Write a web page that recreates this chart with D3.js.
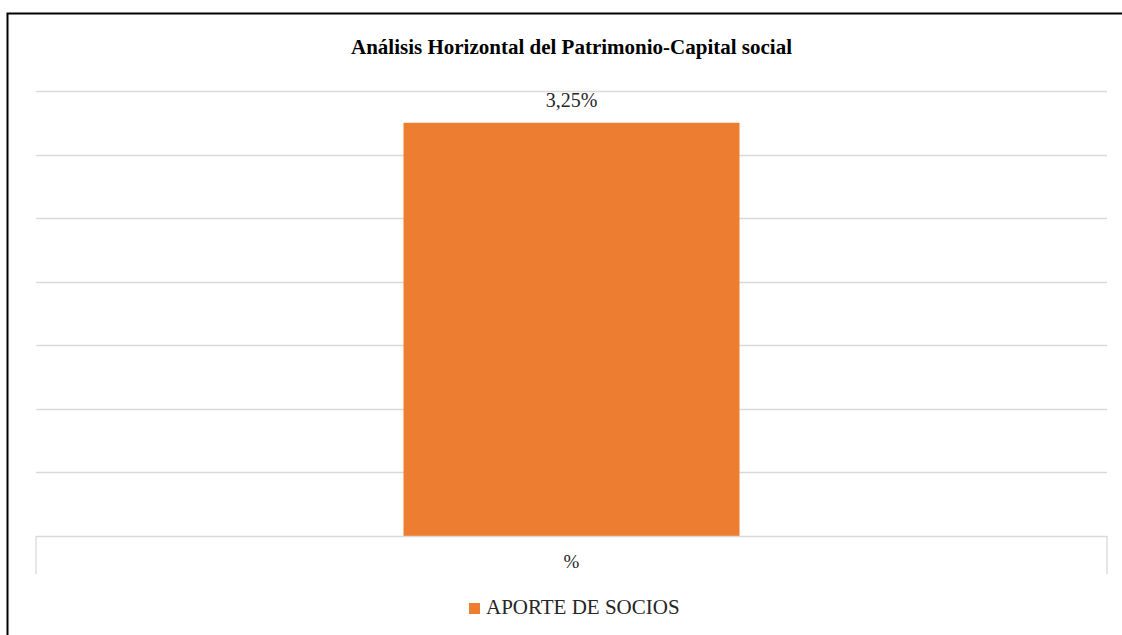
<!DOCTYPE html>
<html>
<head>
<meta charset="utf-8">
<script src="https://cdn.jsdelivr.net/npm/d3@7"></script>
<style>
  body { margin: 0; background: #fff; }
  svg { display: block; }
  text { font-family: "Liberation Serif", "DejaVu Serif", serif; }
</style>
</head>
<body>
<svg width="1122" height="635"></svg>
<script>
(function() {
    const categories = ["%"];
    const seriesName = "APORTE DE SOCIOS";
    const values = [3.25];
    const valueLabels = ["3,25%"];
    const yTicks = [0, 0.5, 1, 1.5, 2, 2.5, 3, 3.5];

    const svg = d3.select("svg"),
        margin = { top: 91, right: 15, bottom: 99, left: 36 },
        width = +svg.attr("width") - margin.left - margin.right,
        height = +svg.attr("height") - margin.top - margin.bottom;

    // outer frame (only top and left edges show in the picture)
    svg.append("rect")
        .attr("x", 7.5).attr("y", 13.5)
        .attr("width", 1200).attr("height", 700)
        .attr("fill", "none")
        .attr("stroke", "#000")
        .attr("stroke-width", 2);

    svg.append("text")
        .attr("x", margin.left + width / 2)
        .attr("y", 54)
        .attr("text-anchor", "middle")
        .attr("font-size", 21)
        .attr("font-weight", "bold")
        .attr("fill", "#000")
        .text("Análisis Horizontal del Patrimonio-Capital social");

    const g = svg.append("g").attr("transform", `translate(${margin.left},${margin.top})`);

    const x = d3.scaleBand().domain(categories).range([0, width]);
    const y = d3.scaleLinear().domain([0, 3.5]).range([height, 0]);

    // gridlines
    g.append("g")
        .selectAll("line")
        .data(yTicks.filter(d => d > 0))
        .enter().append("line")
        .attr("x1", 0).attr("x2", width)
        .attr("y1", d => Math.round(y(d)) + 0.5)
        .attr("y2", d => Math.round(y(d)) + 0.5)
        .attr("stroke", "#d9d9d9")
        .attr("stroke-width", 1.3);

    // bars
    const barW = 336;
    g.selectAll(".bar")
        .data(values)
        .enter().append("rect")
        .attr("class", "bar")
        .attr("x", (d, i) => x(categories[i]) + x.bandwidth() / 2 - barW / 2)
        .attr("y", d => y(d))
        .attr("width", barW)
        .attr("height", d => height - y(d))
        .attr("fill", "#ed7d31");

    g.selectAll(".vlabel")
        .data(values)
        .enter().append("text")
        .attr("class", "vlabel")
        .attr("x", (d, i) => x(categories[i]) + x.bandwidth() / 2)
        .attr("y", d => y(d) - 16)
        .attr("text-anchor", "middle")
        .attr("font-size", 20)
        .attr("fill", "#262626")
        .text((d, i) => valueLabels[i]);

    // category axis
    const xAxis = g.append("g")
        .attr("transform", `translate(0,${height})`)
        .call(d3.axisBottom(x).tickSize(0).tickPadding(0));
    xAxis.select(".domain").remove();
    xAxis.selectAll("text")
        .attr("dy", 0)
        .attr("y", 32)
        .attr("font-size", 19)
        .attr("font-family", null)
        .attr("fill", "#262626");

    g.append("line")
        .attr("x1", 0).attr("x2", width)
        .attr("y1", height + 0.5).attr("y2", height + 0.5)
        .attr("stroke", "#d9d9d9").attr("stroke-width", 1.3);
    [0, width].forEach(px => {
        g.append("line")
            .attr("x1", px).attr("x2", px)
            .attr("y1", height).attr("y2", height + 38)
            .attr("stroke", "#d9d9d9").attr("stroke-width", 1.3);
    });

    // legend
    const legend = svg.append("g").attr("transform", `translate(469,603)`);
    legend.append("rect")
        .attr("width", 11).attr("height", 11)
        .attr("fill", "#ed7d31");
    legend.append("text")
        .attr("x", 17).attr("y", 11)
        .attr("font-size", 21)
        .attr("fill", "#262626")
        .text(seriesName);
})();
</script>
</body>
</html>
